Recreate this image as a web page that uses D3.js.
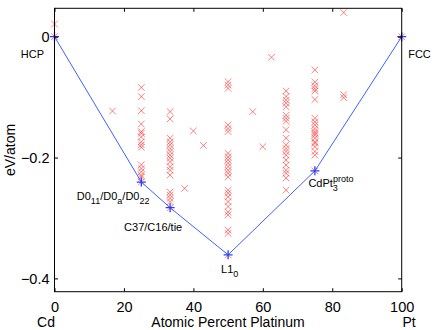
<!DOCTYPE html>
<html>
<head>
<meta charset="utf-8">
<script src="https://cdn.jsdelivr.net/npm/d3@7"></script>
<style>
  body { margin: 0; background: #fff; }
  text { font-family: "Liberation Sans", Arial, sans-serif; fill: #000; }
</style>
</head>
<body>
<div id="chart"></div>
<script>
// convex hull (ground states)
var hullPct = [0, 25, 33.3, 50, 75, 100];
var hullE = [0, -0.2405, -0.283, -0.361, -0.222, 0];

// all calculated structures, grouped by composition
var structPct = [0, 16.7, 25, 33.3, 37.5, 40, 42.9, 50, 57.1, 60, 62.5, 66.7, 75, 83.3, 100];
var structE = [
  [0.021, 0],
  [-0.123],
  [-0.084, -0.099, -0.1225, -0.1445, -0.157, -0.160, -0.166, -0.174, -0.179, -0.183,
   -0.212, -0.218, -0.2235, -0.229, -0.232, -0.2405],
  [-0.124, -0.136, -0.168, -0.174, -0.179, -0.185, -0.190, -0.196, -0.201, -0.207,
   -0.215, -0.221, -0.229, -0.257, -0.262, -0.2675, -0.273, -0.283],
  [-0.251],
  [-0.156],
  [-0.180],
  [-0.0745, -0.080, -0.0855, -0.146, -0.152, -0.157, -0.193, -0.199, -0.204, -0.2095,
   -0.215, -0.221, -0.226, -0.232, -0.254, -0.259, -0.265, -0.273, -0.281, -0.290,
   -0.295, -0.320, -0.3255, -0.361],
  [-0.124],
  [-0.182],
  [-0.034],
  [-0.090, -0.099, -0.105, -0.110, -0.116, -0.130, -0.135, -0.140, -0.154, -0.168,
   -0.179, -0.185, -0.190, -0.196, -0.204, -0.2125, -0.221, -0.226, -0.234, -0.254],
  [-0.055, -0.075, -0.081, -0.086, -0.090, -0.104, -0.135, -0.141, -0.146, -0.152,
   -0.157, -0.160, -0.163, -0.168, -0.174, -0.1765, -0.182, -0.190, -0.196, -0.222],
  [0.040, -0.096, -0.101],
  [0]
];

var xTicks = [0, 20, 40, 60, 80, 100];
var yTicks = [0, -0.2, -0.4];

var width = 436,
    height = 330;

var x = d3.scaleLinear().domain([0, 100]).range([54.5, 401.7]);
var y = d3.scaleLinear().domain([-0.422, 0.047]).range([291.7, 8.3]);

var svg = d3.select("#chart").append("svg")
    .attr("width", width)
    .attr("height", height);

// red crosses
var pts = [];
structPct.forEach(function (p, i) {
    structE[i].forEach(function (e) { pts.push([p, e]); });
});

var cross = d3.symbol().type(d3.symbolX).size(30);
svg.selectAll(".str")
    .data(pts).enter().append("path")
    .attr("class", "str")
    .attr("d", cross)
    .attr("transform", function (d) { return "translate(" + x(d[0]) + "," + y(d[1]) + ")"; })
    .attr("fill", "none")
    .attr("stroke", "#ff2a2a")
    .attr("stroke-opacity", 0.75)
    .attr("stroke-width", 0.8);

// hull line
var hull = hullPct.map(function (p, i) { return [p, hullE[i]]; });
svg.append("path")
    .datum(hull)
    .attr("d", d3.line().x(function (d) { return x(d[0]); }).y(function (d) { return y(d[1]); }))
    .attr("fill", "none")
    .attr("stroke", "#4060ff")
    .attr("stroke-width", 1);

svg.selectAll(".gs")
    .data(hull).enter().append("path")
    .attr("class", "gs")
    .attr("d", "M-4.5,0H4.5M0,-4.5V4.5")
    .attr("transform", function (d) { return "translate(" + x(d[0]) + "," + y(d[1]) + ")"; })
    .attr("stroke", "#2040ff")
    .attr("stroke-width", 1.3);

// axes box
var x0 = x.range()[0], x1 = x.range()[1], y0 = y.range()[1], y1 = y.range()[0];
svg.append("rect")
    .attr("x", x0).attr("y", y0)
    .attr("width", x1 - x0).attr("height", y1 - y0)
    .attr("fill", "none").attr("stroke", "#000").attr("stroke-width", 1);

var tl = 3.5;
var axB = svg.append("g").attr("transform", "translate(0," + y1 + ")")
    .call(d3.axisBottom(x).tickValues(xTicks).tickSizeInner(-tl).tickSizeOuter(0).tickPadding(10));
var axT = svg.append("g").attr("transform", "translate(0," + y0 + ")")
    .call(d3.axisTop(x).tickValues(xTicks).tickSizeInner(-tl).tickSizeOuter(0).tickFormat(""));
var axL = svg.append("g").attr("transform", "translate(" + x0 + ",0)")
    .call(d3.axisLeft(y).tickValues(yTicks).tickSizeInner(-tl).tickSizeOuter(0).tickPadding(5)
        .tickFormat(function (d) { return d === 0 ? "0" : "\u2212" + Math.abs(d).toFixed(1); }));
var axR = svg.append("g").attr("transform", "translate(" + x1 + ",0)")
    .call(d3.axisRight(y).tickValues(yTicks).tickSizeInner(-tl).tickSizeOuter(0).tickFormat(""));

[axB, axT, axL, axR].forEach(function (a) {
    a.select(".domain").remove();
    a.selectAll("line").attr("stroke", "#000");
    a.selectAll("text").style("font-family", "Liberation Sans, Arial, sans-serif").style("font-size", "14.5px").attr("fill", "#000");
});

// axis labels
svg.append("text").attr("x", 46).attr("y", 327).attr("text-anchor", "middle")
    .style("font-size", "14px").text("Cd");
svg.append("text").attr("x", 228).attr("y", 327).attr("text-anchor", "middle")
    .style("font-size", "14px").text("Atomic Percent Platinum");
svg.append("text").attr("x", 409).attr("y", 327).attr("text-anchor", "middle")
    .style("font-size", "14px").text("Pt");
svg.append("text").attr("transform", "translate(15,150) rotate(-90)").attr("text-anchor", "middle")
    .style("font-size", "14px").text("eV/atom");

// structure labels
function label(i, dx, dy, anchor, parts) {
    var t = svg.append("text")
        .attr("x", x(hullPct[i]) + dx).attr("y", y(hullE[i]) + dy)
        .attr("text-anchor", anchor)
        .style("font-size", "11px");
    parts.forEach(function (p) {
        var s = t.append("tspan").text(p[0]);
        if (p[1] === "sub") s.style("font-size", "9px").attr("baseline-shift", "-4");
    });
}
label(0, -10.5, 21.5, "end", [["HCP"]]);
label(5, 6.5, 21.5, "start", [["FCC"]]);
label(1, -64.5, 18, "start", [["D0"], ["11", "sub"], ["/D0"], ["a", "sub"], ["/D0"], ["22", "sub"]]);
label(2, -46, 23, "start", [["C37/C16/tie"]]);
label(3, -7, 18, "start", [["L1"], ["0", "sub"]]);

var cd = svg.append("text")
    .attr("x", x(hullPct[4]) - 6.5).attr("y", y(hullE[4]) + 16)
    .style("font-size", "11px");
cd.append("tspan").text("CdPt");
cd.append("tspan").style("font-size", "9px").attr("baseline-shift", "-4").text("3");
cd.append("tspan").attr("dx", -5).style("font-size", "9px").attr("baseline-shift", "5").text("proto");
</script>
</body>
</html>
